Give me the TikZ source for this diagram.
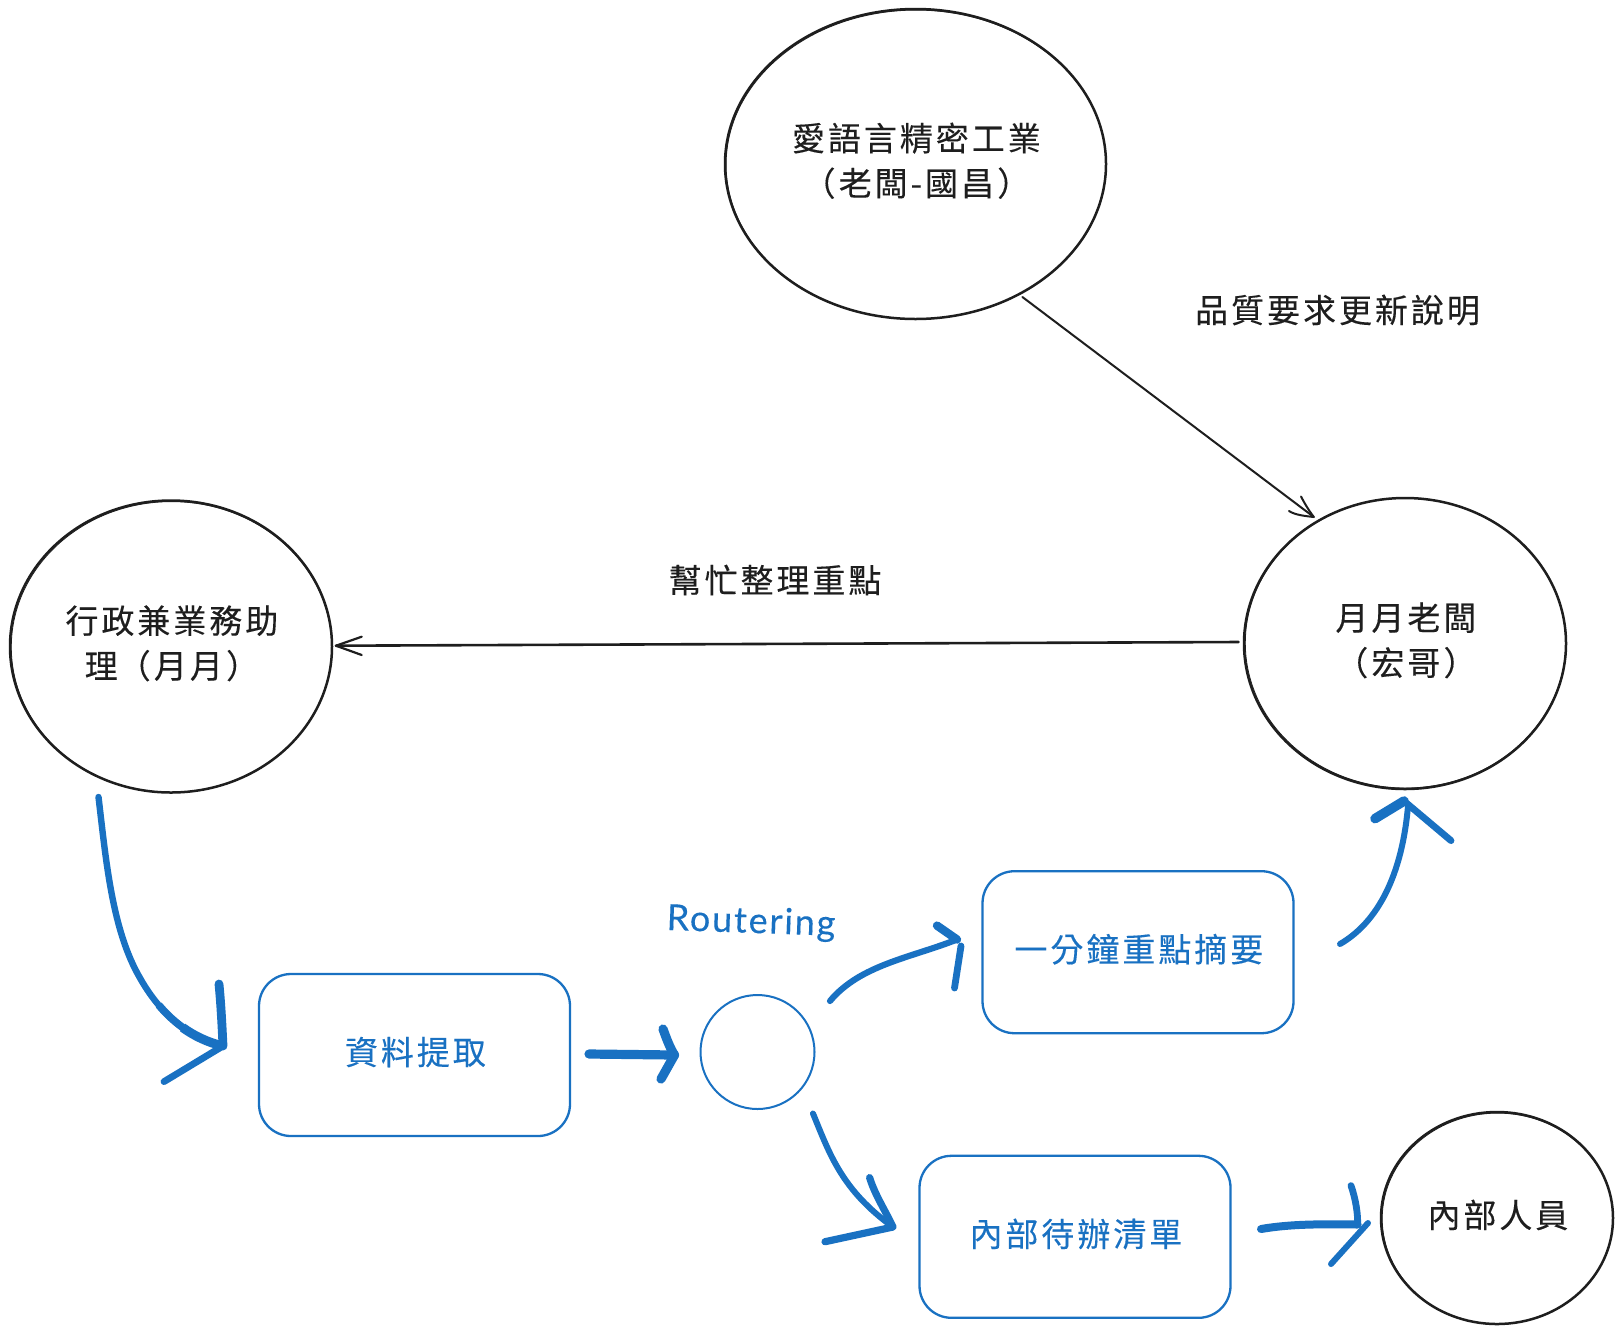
\documentclass[tikz,border=0pt]{standalone}
\usepackage{fontspec}
\setmainfont{Noto Sans CJK TC}[LetterSpace=9,FakeBold=0.2]
\newfontfamily\cjksc{Noto Sans CJK SC}[LetterSpace=9,FakeBold=0.2]
\newfontfamily\latn{Lato}[LetterSpace=5,FakeBold=0.2]
\newcommand{\lpar}{{\cjksc （}\kern1.6pt}
\newcommand{\rpar}{\kern1.6pt{\cjksc ）}}
\newcommand{\bal}{\hspace*{0.9pt}}
\definecolor{ink}{HTML}{1E1E1E}
\definecolor{bluepen}{HTML}{1971C2}
\tikzset{
  every node/.style={font=\fontsize{16.5}{23}\selectfont, align=center, inner sep=0pt, outer sep=0pt},
  person/.style={ellipse, draw=ink, line width=1.25pt, text=ink},
  hub/.style={ellipse, draw=bluepen, line width=1pt},
  task/.style={rectangle, rounded corners=16pt, draw=bluepen, line width=1.15pt, text=bluepen,
    minimum width=155.5pt, minimum height=81pt},
  plain/.style={text=ink},
  sketchk/.style={draw=ink, line width=0.4pt},
  inkline/.style={draw=ink, line cap=round, line join=round},
  pen/.style={draw=bluepen, line cap=round, line join=round},
}
\usetikzlibrary{shapes.geometric}
\begin{document}
\begin{tikzpicture}[x=0.5pt,y=-0.5pt]
\useasboundingbox[fill=white] (0,0) rectangle (1621,1334);

% people
\node[person, minimum width=190.5pt, minimum height=155pt] (A) at (915.5,164) {\raisebox{2pt}{\begin{tabular}{@{}c@{}}\bal 愛語言精密工業\\[-0.5pt]\bal\lpar 老闆-國昌\rpar\end{tabular}}};
\node[person, minimum width=161pt, minimum height=146pt] (B) at (171,646.5) {\raisebox{2.8pt}{\begin{tabular}{@{}c@{}}\bal 行政兼業務助\\[-0.5pt]\bal 理\lpar 月月\rpar\end{tabular}}};
\node[person, minimum width=161pt, minimum height=145.5pt] (C) at (1405,643.5) {\raisebox{3pt}{\begin{tabular}{@{}c@{}}\bal 月月老闆\\[-0.5pt]\bal\lpar 宏哥\rpar\end{tabular}}};
\node[person, minimum width=116pt, minimum height=106pt] (E) at (1497,1218) {\raisebox{4.4pt}{\bal 內部人員}};
\node[hub, minimum width=57pt, minimum height=57pt] (D) at (757.5,1052) {};

% second sketch strokes
\draw[sketchk] ([shift={(0.6,0.6)}]A.center) ellipse [x radius=190, y radius=154.5];
\draw[sketchk] ([shift={(0.5,0.6)}]B.center) ellipse [x radius=160.2, y radius=145.5];
\draw[sketchk] ([shift={(0.5,-0.5)}]C.center) ellipse [x radius=160.2, y radius=145];
\draw[sketchk] ([shift={(0.6,0.6)}]E.center) ellipse [x radius=115.4, y radius=105.5];

% tasks
\node[task] (R1) at (414.5,1055) {\raisebox{4.3pt}{\bal 資料提取}};
\node[task] (R2) at (1138,952.2) {\raisebox{4.4pt}{\bal 一分鐘重點摘要}};
\node[task] (R3) at (1075,1236.8) {\raisebox{4.3pt}{\bal 內部待辦清單}};

% labels
\node[plain] (lq) at (1337.5,310) {品質要求更新說明};
\node[plain] (lh) at (775,580) {幫忙整理重點};
\node[text=bluepen, rotate=-2, font=\latn\fontsize{18}{22}\selectfont] (lr) at (751,923) {Routering};

% coordinates
\coordinate (acS) at (1022.4,297);
\coordinate (acT) at (1313.8,517);
\coordinate (acL) at (1301,496.5);
\coordinate (acR) at (1289,511);
\coordinate (cbS) at (1238.5,642);
\coordinate (cbT) at (336,645.7);
\coordinate (cbU) at (361.7,636.7);
\coordinate (cbD) at (361.7,655);

\coordinate (a1S) at (98.5,797);
\coordinate (a1M) at (140,978);
\coordinate (a1N) at (158.7,1005);
\coordinate (a1O) at (182.6,1027.5);
\coordinate (a1T) at (223,1046);
\coordinate (a1U) at (219,984);
\coordinate (a1D) at (164,1081.6);

\coordinate (a2S) at (589,1054);
\coordinate (a2T) at (674.5,1055);
\coordinate (a2U) at (663,1029);
\coordinate (a2D) at (661,1079);

\coordinate (a3S) at (830,1001);
\coordinate (a3T) at (957,939.5);
\coordinate (a3U) at (937,925.6);
\coordinate (a3V) at (961,946);
\coordinate (a3D) at (954.5,988);

\coordinate (a4S) at (1340,944);
\coordinate (a4T) at (1408,806);
\coordinate (a4A) at (1404,801);
\coordinate (a4L) at (1375,818.6);
\coordinate (a4R) at (1451,840.6);

\coordinate (a5S) at (813,1113.5);
\coordinate (a5T) at (893,1227);
\coordinate (a5U) at (869.6,1177.6);
\coordinate (a5D) at (825,1241.7);

\coordinate (a6S) at (1261,1229);
\coordinate (a6T) at (1357.6,1224.5);
\coordinate (a6U) at (1351,1185.6);
\coordinate (a6V) at (1368,1223);
\coordinate (a6D) at (1331,1264);

% black connectors
\draw[inkline, line width=1pt] (acS) -- (acT);
\draw[inkline, line width=1pt] (acL) .. controls (1306,506) and (1310,512) .. (acT) .. controls (1305,516) and (1295,515) .. (acR);
\draw[inkline, line width=1.3pt] (cbS) -- (cbT);
\draw[inkline, line width=1.1pt] (cbU) -- (cbT) -- (cbD);

% blue connectors
\draw[pen, line width=3.2pt] (a1S) .. controls (106,860) and (112,930) .. (a1M) .. controls (158,1010) and (185,1037) .. (a1T);
\draw[pen, line width=3.8pt, line cap=butt] (a1N) .. controls (175.1,1024.5) and (196.4,1039.7) .. (a1T);
\draw[pen, line width=4.6pt, line cap=butt] (a1O) .. controls (194.4,1036) and (207.8,1042.4) .. (a1T);
\draw[pen, line width=4.4pt] (a1U) .. controls (221,1005) and (222,1025) .. (a1T);
\draw[pen, line width=3.4pt] (a1T) -- (a1D);

\draw[pen, line width=4.6pt] (a2S) -- (a2T);
\draw[pen, line width=4.6pt] (a2U) .. controls (667,1040) and (670,1048) .. (a2T) -- (a2D);

\draw[pen, line width=3.1pt] (a3S) .. controls (860,965) and (910,958) .. (a3T);
\draw[pen, line width=4.2pt] (a3U) -- (a3T);
\draw[pen, line width=3.4pt] (a3V) -- (a3D);

\draw[pen, line width=3pt] (a4S) .. controls (1378,922) and (1402,875) .. (a4T);
\draw[pen, line width=4.8pt] (a4L) -- (a4A);
\draw[pen, line width=3.4pt] (a4A) -- (a4R);

\draw[pen, line width=3pt] (a5S) .. controls (830,1155) and (842,1190) .. (a5T);
\draw[pen, line width=3.6pt] (a5U) .. controls (875,1195) and (885,1210) .. (a5T) -- (a5D);

\draw[pen, line width=4pt] (a6S) .. controls (1290,1224) and (1320,1224) .. (a6T);
\draw[pen, line width=3.4pt] (a6U) .. controls (1356,1200) and (1358,1215) .. (a6T);
\draw[pen, line width=3pt] (a6V) -- (a6D);
\end{tikzpicture}
\end{document}
